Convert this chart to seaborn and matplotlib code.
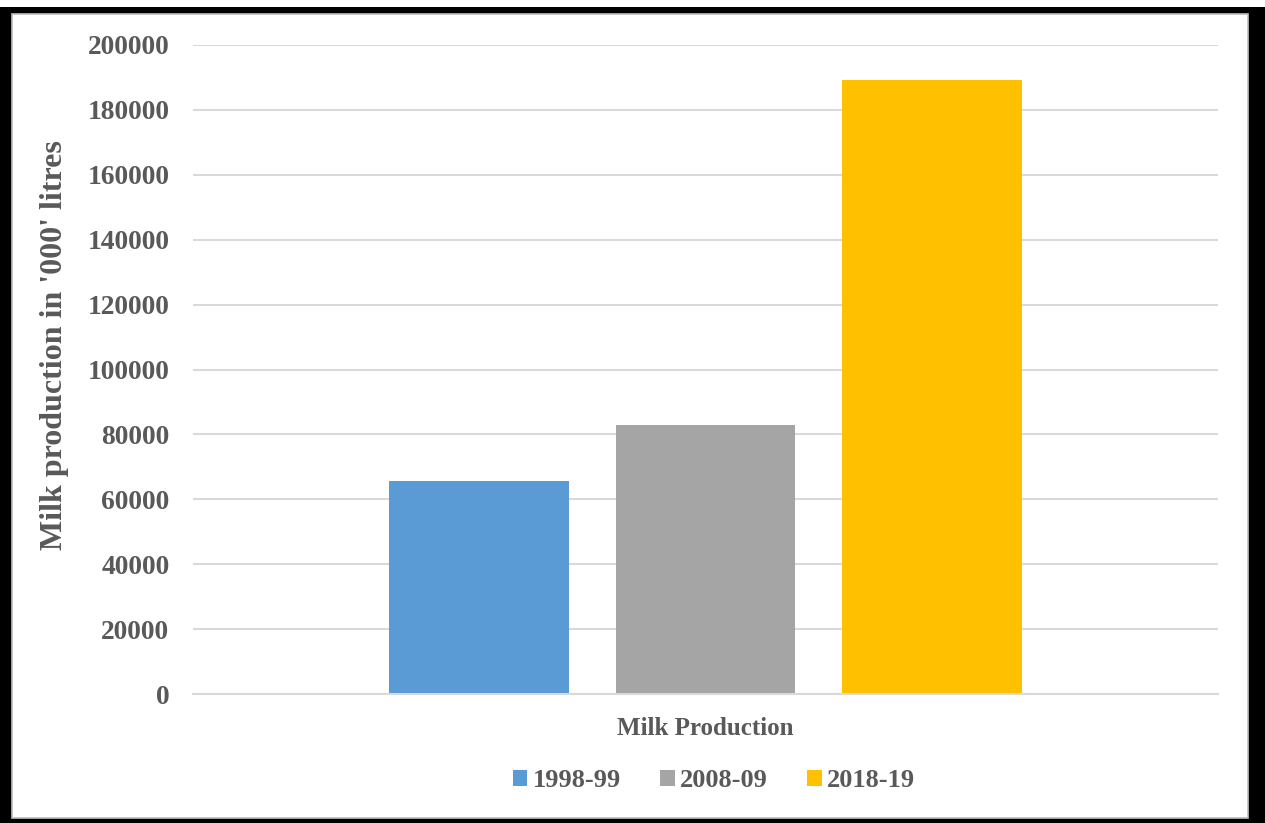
import matplotlib
matplotlib.use("Agg")
import matplotlib.pyplot as plt
from matplotlib.patches import Rectangle
import pandas as pd
import seaborn as sns

# Milk production ('000 litres) by year
category = ["Milk Production"]
years = ["1998-99", "2008-09", "2018-19"]
production = [65600, 82900, 189200]
colors = ["#5B9BD5", "#A5A5A5", "#FFC000"]
y_ticks = [0, 20000, 40000, 60000, 80000, 100000, 120000, 140000, 160000, 180000, 200000]

df = pd.DataFrame({
    "category": category * len(years),
    "year": years,
    "production": production,
})

sns.set_theme(style="white")
plt.rcParams["font.family"] = ["Liberation Serif", "DejaVu Serif"]
plt.rcParams["font.weight"] = "bold"
text_color = "#595959"

W, H = 1265, 823
fig = plt.figure(figsize=(W / 100, H / 100), dpi=100)

# Frame: black shadowed border with a thin grey inner edge
def px_rect(x0, y0, x1, y1, **kw):
    return Rectangle((x0 / W, 1 - y1 / H), (x1 - x0) / W, (y1 - y0) / H,
                     transform=fig.transFigure, figure=fig, **kw)

fig.patches.append(px_rect(0, 7, W, H, facecolor="black", edgecolor="none", zorder=0))
fig.patches.append(px_rect(12, 14, 1248, 818, facecolor="white", edgecolor="#BFBFBF",
                           linewidth=1.2, zorder=1))

ax = fig.add_axes([193 / W, 1 - 694 / H, (1218 - 193) / W, (694 - 45) / H])
ax.set_zorder(2)
ax.patch.set_alpha(0)

sns.barplot(data=df, x="category", y="production", hue="year",
            palette=colors, width=0.664, gap=0.207, saturation=1,
            linewidth=0, ax=ax, legend=True)

ax.set_ylim(0, 200000)
ax.set_xlim(-0.5, 0.5)
ax.set_yticks(y_ticks)
ax.set_yticklabels([str(v) for v in y_ticks])
ax.yaxis.grid(True, color="#D9D9D9", linewidth=1.5)
ax.set_axisbelow(True)
for s in ["top", "right", "left"]:
    ax.spines[s].set_visible(False)
ax.spines["bottom"].set_color("#D9D9D9")
ax.spines["bottom"].set_linewidth(1.5)
ax.tick_params(axis="y", length=0, pad=17, labelsize=19.8, labelcolor=text_color)
ax.tick_params(axis="x", length=0, pad=16.5, labelsize=18, labelcolor=text_color)
for lab in ax.get_yticklabels() + ax.get_xticklabels():
    lab.set_fontweight("bold")

ax.set_xlabel("")
ax.set_ylabel("Milk production in '000' litres", fontsize=23, fontweight="bold",
              color=text_color)
ax.yaxis.label.set_va("center")
ax.yaxis.set_label_coords((55 - 193) / 1025, (694 - 345) / 649)

handles, labels = ax.get_legend_handles_labels()
ax.legend_.remove()
fig.legend(handles, labels, loc="center", bbox_to_anchor=(714 / W, 1 - 780.5 / H),
           ncol=3, frameon=False, handlelength=0.55, handleheight=0.55,
           handletextpad=0.2, columnspacing=1.5,
           prop={"size": 19, "weight": "bold"}, labelcolor=text_color)

fig.savefig("out.png", dpi=100)
